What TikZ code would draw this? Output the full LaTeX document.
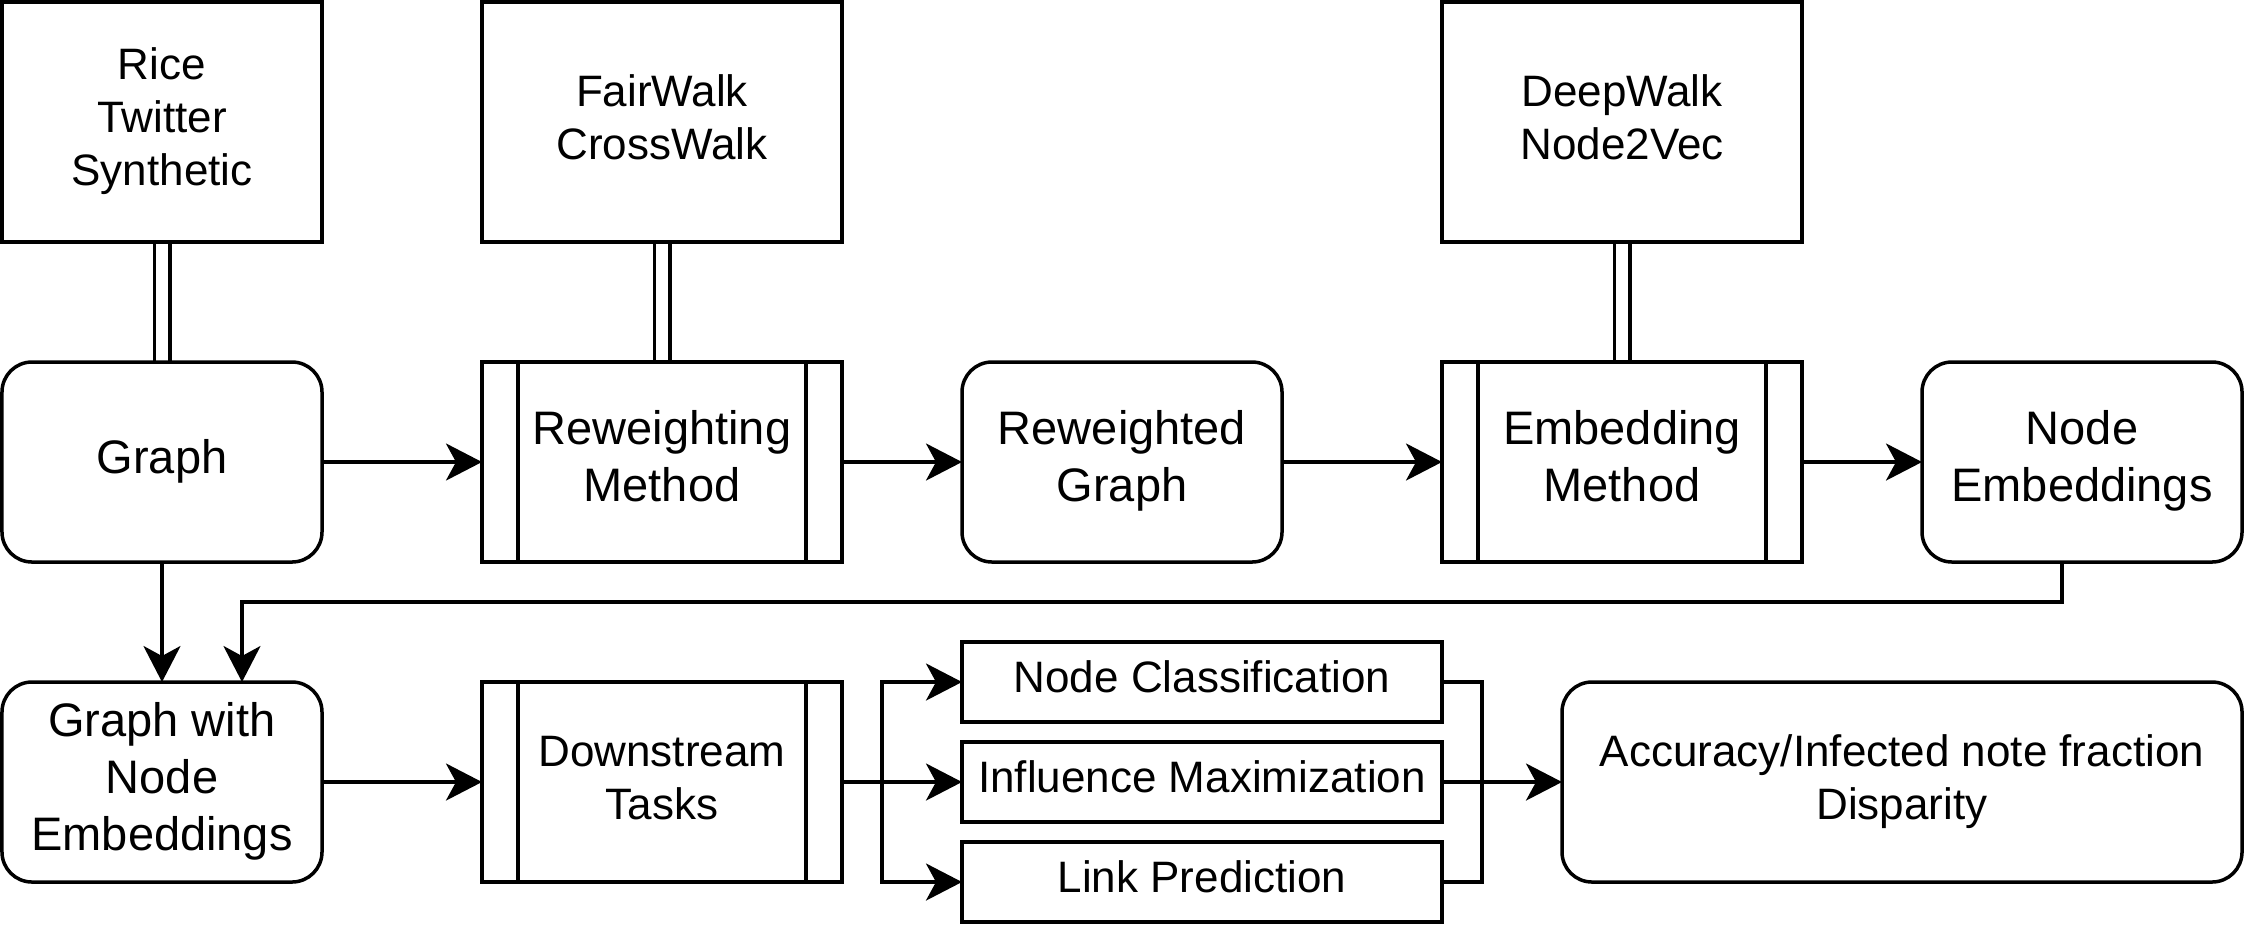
\documentclass[tikz,border=0pt]{standalone}
\usepackage{fontspec}
\setmainfont{Liberation Sans}
\usetikzlibrary{arrows.meta,backgrounds}
\newcommand\zstrut{\vrule width0pt height0.7\baselineskip depth0.3\baselineskip}
\tikzset{
  lw/.style={line width=0.035cm},
  box/.style={draw, lw, fill=white, inner sep=0pt, outer sep=0pt, align=center},
  fsmall/.style={font=\fontsize{12.52}{15.1}\selectfont},
  fbig/.style={font=\fontsize{13.37}{16.2}\selectfont},
  srcbox/.style={box, fsmall, minimum height=2.4cm},
  rbox/.style={box, fbig, rounded corners=0.3cm, minimum width=3.2cm, minimum height=2.0cm},
  procbox/.style={box, minimum width=3.6cm, minimum height=2.0cm,
    path picture={
      \draw[lw] ([xshift=0.36cm]path picture bounding box.north west) -- ([xshift=0.36cm]path picture bounding box.south west);
      \draw[lw] ([xshift=-0.36cm]path picture bounding box.north east) -- ([xshift=-0.36cm]path picture bounding box.south east);
    }},
  taskbox/.style={box, fsmall, minimum width=4.8cm, minimum height=0.8cm},
  arr/.style={lw, -{Stealth[length=0.36cm, width=0.37cm, inset=0.1cm]}},
  conn/.style={lw},
  link/.style={lw, double, double distance=0.12cm},
}
\begin{document}
\begin{tikzpicture}[x=0.4cm, y=-0.4cm]
\useasboundingbox (-0.05,-0.05) rectangle (56.05,23.05);

% top sources
\node[srcbox, minimum width=3.2cm] (src1) at (4,3) {\zstrut Rice\\Twitter\\Synthetic\zstrut};
\node[srcbox, minimum width=3.6cm] (src2) at (16.5,3) {\zstrut FairWalk\\CrossWalk\zstrut};
\node[srcbox, minimum width=3.6cm] (src3) at (40.5,3) {\zstrut DeepWalk\\Node2Vec\zstrut};

% middle row
\node[rbox] (graph) at (4,11.5) {\zstrut Graph\zstrut};
\node[procbox, fbig] (rwm) at (16.5,11.5) {\zstrut Reweighting\\Method\zstrut};
\node[rbox] (rwg) at (28,11.5) {\zstrut Reweighted\\Graph\zstrut};
\node[procbox, fbig] (emb) at (40.5,11.5) {\zstrut Embedding\\Method\zstrut};
\node[rbox] (ne) at (52,11.5) {\zstrut Node\\Embeddings\zstrut};

% bottom row
\node[rbox] (gne) at (4,19.5) {\zstrut Graph with\\Node\\Embeddings\zstrut};
\node[procbox, fsmall] (ds) at (16.5,19.5) {\zstrut Downstream\\Tasks\zstrut};
\node[taskbox] (nc) at (30,17) {\zstrut Node Classification\zstrut};
\node[taskbox] (im) at (30,19.5) {\zstrut Influence Maximization\zstrut};
\node[taskbox] (lp) at (30,22) {\zstrut Link Prediction\zstrut};
\node[box, fsmall, rounded corners=0.3cm, minimum width=6.8cm, minimum height=2.0cm] (acc) at (47.5,19.5) {\zstrut Accuracy/Infected note fraction\\Disparity\zstrut};

\coordinate (neout) at (51.5,14);
\coordinate (bend) at (6,15);
\coordinate (split) at (22,19.5);
\coordinate (join) at (37,19.5);

\begin{scope}[on background layer]
\draw[link] (src1.south) -- (graph.north);
\draw[link] (src2.south) -- (rwm.north);
\draw[link] (src3.south) -- (emb.north);
\end{scope}

\draw[arr] (graph.east) -- (rwm.west);
\draw[arr] (rwm.east) -- (rwg.west);
\draw[arr] (rwg.east) -- (emb.west);
\draw[arr] (emb.east) -- (ne.west);

\draw[arr] (graph.south) -- (gne.north);
\draw[arr] (neout) |- (bend) -- (bend |- gne.north);

\draw[arr] (gne.east) -- (ds.west);
\draw[conn] (ds.east) -- (split);
\draw[arr] (split) |- (nc.west);
\draw[arr] (split) -- (im.west);
\draw[arr] (split) |- (lp.west);

\draw[conn] (nc.east) -| (join);
\draw[conn] (lp.east) -| (join);
\draw[arr] (im.east) -- (acc.west);
\end{tikzpicture}
\end{document}
